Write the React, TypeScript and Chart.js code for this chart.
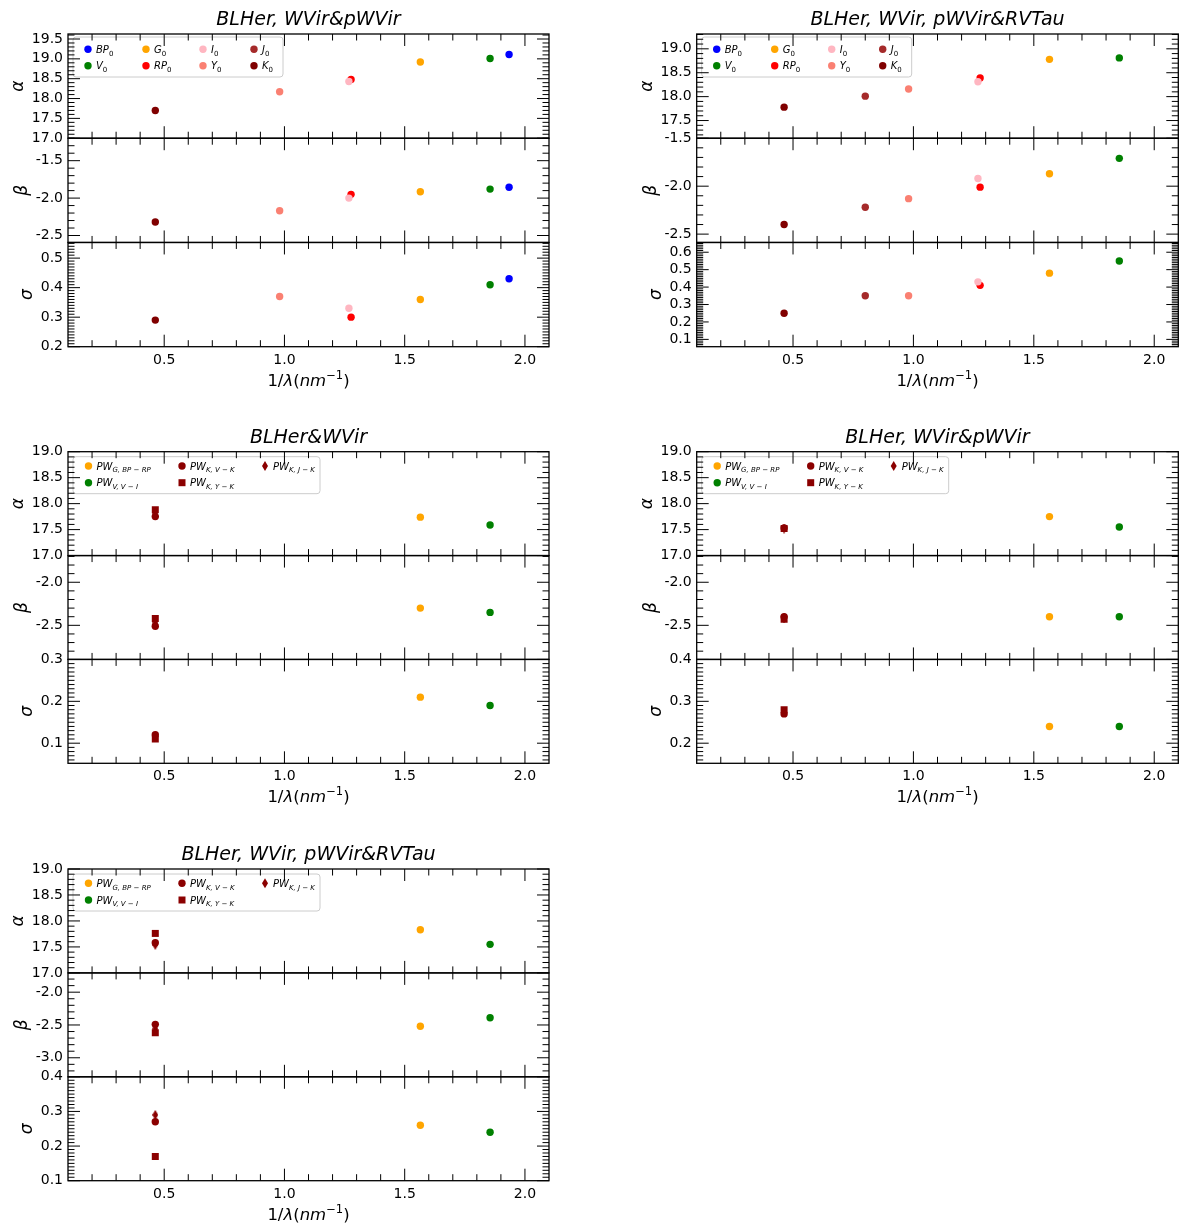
import { useEffect, useRef } from 'react';
import { Chart, registerables } from 'chart.js';

Chart.register(...registerables);

const FONT = 'DejaVu Sans';
Chart.defaults.font.family = FONT;

// bands (legend order: BP, V | G, RP | I, Y | J, K)
const bandNames = ['BP', 'V', 'G', 'RP', 'I', 'Y', 'J', 'K'];
const bandX = [1.934, 1.855, 1.565, 1.277, 1.268, 0.98, 0.8, 0.463];
const bandColors = ['#0000ff', '#008000', '#ffa500', '#ff0000', '#ffb6c1', '#fa8072', '#a52a2a', '#800000'];

// PL relations, BLHer, WVir & pWVir
const alphaPL1 = [19.11, 19.01, 18.92, 18.48, 18.43, 18.17, null, 17.7];
const betaPL1 = [-1.855, -1.88, -1.915, -1.95, -2.0, -2.17, null, -2.32];
const sigmaPL1 = [0.43, 0.41, 0.36, 0.3, 0.33, 0.37, null, 0.29];

// PL relations, BLHer, WVir, pWVir & RVTau
const alphaPL2 = [null, 18.81, 18.78, 18.39, 18.31, 18.16, 18.01, 17.78];
const betaPL2 = [null, -1.71, -1.87, -2.01, -1.92, -2.13, -2.22, -2.4];
const sigmaPL2 = [null, 0.55, 0.48, 0.41, 0.43, 0.35, 0.35, 0.25];

// Wesenheit relations (legend order: G | V, K V-K | K Y-K, K J-K)
const pwSubs = ['G, BP − RP', 'V, V − I', 'K, V − K', 'K, Y − K', 'K, J − K'];
const pwX = [1.565, 1.855, 0.463, 0.463, 0.463];
const pwColors = ['#ffa500', '#008000', '#8b0000', '#8b0000', '#8b0000'];
const pwShapes = ['circle', 'circle', 'circle', 'rect', 'diamond'];

// BLHer & WVir
const alphaPW1 = [17.74, 17.59, 17.75, 17.88, 17.81];
const betaPW1 = [-2.3, -2.35, -2.51, -2.42, -2.47];
const sigmaPW1 = [0.21, 0.19, 0.12, 0.11, 0.115];

// BLHer, WVir & pWVir
const alphaPW2 = [17.75, 17.55, 17.53, 17.52, 17.52];
const betaPW2 = [-2.4, -2.4, -2.4, -2.43, -2.42];
const sigmaPW2 = [0.24, 0.24, 0.27, 0.28, 0.275];

// BLHer, WVir, pWVir & RVTau
const alphaPW3 = [17.83, 17.55, 17.58, 17.76, 17.54];
const betaPW3 = [-2.52, -2.39, -2.49, -2.62, -2.555];
const sigmaPW3 = [0.26, 0.24, 0.27, 0.17, 0.29];

// tick labels
const xTicks = [0.5, 1.0, 1.5, 2.0];
const alphaTicksA = [17.0, 17.5, 18.0, 18.5, 19.0, 19.5];
const alphaTicksB = [17.5, 18.0, 18.5, 19.0];
const alphaTicksC = [17.0, 17.5, 18.0, 18.5, 19.0];
const betaTicksA = [-2.5, -2.0, -1.5];
const betaTicksC = [-2.5, -2.0];
const betaTicksE = [-3.0, -2.5, -2.0];
const sigmaTicksA = [0.2, 0.3, 0.4, 0.5];
const sigmaTicksB = [0.1, 0.2, 0.3, 0.4, 0.5, 0.6];
const sigmaTicksC = [0.1, 0.2, 0.3];
const sigmaTicksD = [0.2, 0.3, 0.4];
const sigmaTicksE = [0.1, 0.2, 0.3, 0.4];

const yIds = ['ya', 'yb', 'yc'];
const yTitles = ['α', 'β', 'σ'];
const majorSteps = [0.5, 0.5, 0.1];
const minorSteps = [0.1, 0.1, 0.01];

type Area = { l: number; t: number; r: number; b: number };
type PanelCfg = {
  x: number; y: number; w: number; h: number; area: Area;
  title: string; kind: 'band' | 'pw';
  vals: (number | null)[][]; ranges: number[][]; ticks: number[][];
};

const panels: PanelCfg[] = [
  {
    x: 0, y: 0, w: 600, h: 415, area: { l: 68, t: 34, r: 549, b: 346.7 },
    title: 'BLHer, WVir&pWVir', kind: 'band',
    vals: [alphaPL1, betaPL1, sigmaPL1],
    ranges: [[17.0, 19.626], [-2.593, -1.2], [0.2, 0.553]],
    ticks: [alphaTicksA, betaTicksA, sigmaTicksA],
  },
  {
    x: 600, y: 0, w: 600, h: 415, area: { l: 96.7, t: 34, r: 578.3, b: 346.7 },
    title: 'BLHer, WVir, pWVir&RVTau', kind: 'band',
    vals: [alphaPL2, betaPL2, sigmaPL2],
    ranges: [[17.13, 19.31], [-2.587, -1.5], [0.058, 0.656]],
    ticks: [alphaTicksB, betaTicksA, sigmaTicksB],
  },
  {
    x: 0, y: 415, w: 600, h: 415, area: { l: 68, t: 36.7, r: 549, b: 348.3 },
    title: 'BLHer&WVir', kind: 'pw',
    vals: [alphaPW1, betaPW1, sigmaPW1],
    ranges: [[17.0, 19.0], [-2.896, -1.69], [0.052, 0.3]],
    ticks: [alphaTicksC, betaTicksC, sigmaTicksC],
  },
  {
    x: 600, y: 415, w: 600, h: 415, area: { l: 96.7, t: 36.7, r: 578.3, b: 348.3 },
    title: 'BLHer, WVir&pWVir', kind: 'pw',
    vals: [alphaPW2, betaPW2, sigmaPW2],
    ranges: [[17.0, 19.0], [-2.896, -1.69], [0.152, 0.4]],
    ticks: [alphaTicksC, betaTicksC, sigmaTicksD],
  },
  {
    x: 0, y: 830, w: 600, h: 399, area: { l: 68, t: 39, r: 549, b: 350.7 },
    title: 'BLHer, WVir, pWVir&RVTau', kind: 'pw',
    vals: [alphaPW3, betaPW3, sigmaPW3],
    ranges: [[17.0, 19.0], [-3.29, -1.706], [0.1, 0.4]],
    ticks: [alphaTicksC, betaTicksE, sigmaTicksE],
  },
];

function diamondImage(color: string) {
  const c = document.createElement('canvas');
  c.width = 6;
  c.height = 10;
  const g = c.getContext('2d')!;
  g.fillStyle = color;
  g.beginPath();
  g.moveTo(3, 0);
  g.lineTo(6, 5);
  g.lineTo(3, 10);
  g.lineTo(0, 5);
  g.closePath();
  g.fill();
  return c;
}

function drawMarker(ctx: CanvasRenderingContext2D, shape: string, color: string, x: number, y: number) {
  ctx.fillStyle = color;
  ctx.beginPath();
  if (shape === 'rect') ctx.rect(x - 3.5, y - 3.5, 7, 7);
  else if (shape === 'diamond') {
    ctx.moveTo(x, y - 5);
    ctx.lineTo(x + 3, y);
    ctx.lineTo(x, y + 5);
    ctx.lineTo(x - 3, y);
    ctx.closePath();
  } else ctx.arc(x, y, 3.7, 0, Math.PI * 2);
  ctx.fill();
}

type Piece = { t: string; it?: boolean; sub?: boolean; sup?: boolean };

function richWidth(ctx: CanvasRenderingContext2D, pieces: Piece[], size: number) {
  let w = 0;
  for (const p of pieces) {
    const fs = p.sub || p.sup ? size * 0.7 : size;
    ctx.font = `${p.it ? 'italic ' : ''}${fs}px ${FONT}`;
    w += ctx.measureText(p.t).width;
  }
  return w;
}

function drawRich(ctx: CanvasRenderingContext2D, pieces: Piece[], x: number, y: number, size: number) {
  let cx = x;
  ctx.textAlign = 'left';
  ctx.textBaseline = 'alphabetic';
  for (const p of pieces) {
    const fs = p.sub || p.sup ? size * 0.7 : size;
    ctx.font = `${p.it ? 'italic ' : ''}${fs}px ${FONT}`;
    const dy = p.sub ? size * 0.28 : p.sup ? -size * 0.42 : 0;
    ctx.fillText(p.t, cx, y + dy);
    cx += ctx.measureText(p.t).width;
  }
}

function drawLegend(ctx: CanvasRenderingContext2D, a: any, kind: 'band' | 'pw') {
  const band = kind === 'band';
  const box = band ? { dx: 5, dy: 3, w: 210, h: 40 } : { dx: 5, dy: 5, w: 247, h: 37 };
  const cols = band ? [20, 78, 135, 186] : [20.5, 114, 197];
  const rows = band ? [15.3, 31.7] : [14.3, 31];
  ctx.save();
  ctx.fillStyle = 'rgba(255,255,255,0.8)';
  ctx.strokeStyle = '#cccccc';
  ctx.lineWidth = 1;
  ctx.beginPath();
  ctx.roundRect(a.left + box.dx, a.top + box.dy, box.w, box.h, 3);
  ctx.fill();
  ctx.stroke();
  const n = band ? bandNames.length : pwSubs.length;
  for (let i = 0; i < n; i++) {
    const mx = a.left + cols[Math.floor(i / 2)];
    const my = a.top + rows[i % 2];
    if (band) {
      drawMarker(ctx, 'circle', bandColors[i], mx, my);
      ctx.fillStyle = '#000';
      drawRich(ctx, [{ t: bandNames[i], it: true }, { t: '0', sub: true }], mx + 8, my + 3.6, 10);
    } else {
      drawMarker(ctx, pwShapes[i], pwColors[i], mx, my);
      ctx.fillStyle = '#000';
      drawRich(ctx, [{ t: 'PW', it: true }, { t: pwSubs[i], it: true, sub: true }], mx + 8, my + 3.6, 10);
    }
  }
  ctx.restore();
}

function makeDecor(cfg: PanelCfg) {
  return {
    id: 'decor',
    afterDraw(chart: any) {
      const ctx: CanvasRenderingContext2D = chart.ctx;
      const a = chart.chartArea;
      const xs = chart.scales.x;
      ctx.save();
      drawLegend(ctx, a, cfg.kind);

      ctx.strokeStyle = '#000';
      ctx.fillStyle = '#000';
      yIds.forEach((id, k) => {
        const s = chart.scales[id];
        const top = s.top;
        const bot = s.bottom;
        ctx.lineWidth = 1;
        const tick = (x1: number, y1: number, x2: number, y2: number) => {
          ctx.beginPath();
          ctx.moveTo(x1, y1);
          ctx.lineTo(x2, y2);
          ctx.stroke();
        };
        // y ticks
        const [min, max] = cfg.ranges[k];
        const ms = minorSteps[k];
        for (let j = Math.ceil(min / ms - 1e-6); j * ms <= max + 1e-9; j++) {
          const v = j * ms;
          const q = v / majorSteps[k];
          if (Math.abs(q - Math.round(q)) < 1e-6) continue;
          const py = s.getPixelForValue(v);
          tick(a.left, py, a.left + 6.5, py);
          tick(a.right - 6.5, py, a.right, py);
        }
        for (const v of cfg.ticks[k]) {
          const py = s.getPixelForValue(v);
          tick(a.left, py, a.left + 12, py);
          tick(a.right - 12, py, a.right, py);
        }
        // x ticks
        for (let j = 2; j <= 20; j++) {
          const v = j / 10;
          const px = xs.getPixelForValue(v);
          const major = j % 5 === 0;
          const len = major ? 12 : 6.5;
          tick(px, top, px, top + len);
          tick(px, bot, px, bot - len);
        }
        // frame
        ctx.lineWidth = 1.3;
        ctx.strokeRect(a.left, top, a.right - a.left, bot - top);

        // y title
        ctx.font = `14px ${FONT}`;
        let maxW = 0;
        for (const v of cfg.ticks[k]) maxW = Math.max(maxW, ctx.measureText(v.toFixed(1)).width);
        const cx = a.left - 5 - maxW - 13;
        const cy = (top + bot) / 2;
        ctx.save();
        ctx.translate(cx, cy);
        ctx.rotate(-Math.PI / 2);
        ctx.font = `italic 17px ${FONT}`;
        ctx.textAlign = 'center';
        ctx.textBaseline = 'middle';
        ctx.fillText(yTitles[k], 0, 0);
        ctx.restore();
      });

      // panel title
      ctx.font = `italic 19px ${FONT}`;
      ctx.textAlign = 'center';
      ctx.textBaseline = 'alphabetic';
      ctx.fillText(cfg.title, (a.left + a.right) / 2, a.top - 9);

      // x axis title
      const pieces: Piece[] = [
        { t: '1/' }, { t: 'λ', it: true }, { t: '(' }, { t: 'nm', it: true }, { t: '−1', sup: true }, { t: ')' },
      ];
      const w = richWidth(ctx, pieces, 16.5);
      drawRich(ctx, pieces, (a.left + a.right) / 2 - w / 2, a.bottom + 39, 16.5);
      ctx.restore();
    },
  };
}

function Panel({ cfg }: { cfg: PanelCfg }) {
  const canvasRef = useRef<HTMLCanvasElement>(null);

  useEffect(() => {
    if (!canvasRef.current) return;
    const datasets: any[] = [];
    const n = cfg.kind === 'band' ? bandNames.length : pwSubs.length;
    for (let k = 0; k < 3; k++) {
      for (let i = 0; i < n; i++) {
        const v = cfg.vals[k][i];
        const color = cfg.kind === 'band' ? bandColors[i] : pwColors[i];
        const shape = cfg.kind === 'band' ? 'circle' : pwShapes[i];
        const xv = cfg.kind === 'band' ? bandX[i] : pwX[i];
        datasets.push({
          data: v === null ? [] : [{ x: xv, y: v }],
          yAxisID: yIds[k],
          backgroundColor: color,
          borderColor: color,
          pointBorderWidth: 0,
          pointRadius: shape === 'rect' ? 4.95 : 3.7,
          pointStyle: shape === 'diamond' ? diamondImage(color) : shape,
          order: -i,
        });
      }
    }

    const tickFont = { family: FONT, size: 14 };
    const yScale = (k: number) => ({
      type: 'linear',
      position: 'left',
      stack: 'panel',
      stackWeight: 1,
      weight: 3 - k,
      min: cfg.ranges[k][0],
      max: cfg.ranges[k][1],
      grid: { display: false, drawTicks: false },
      border: { display: false },
      afterBuildTicks: (s: any) => {
        s.ticks = cfg.ticks[k].map((v) => ({ value: v }));
      },
      afterFit: (s: any) => {
        s.width = cfg.area.l;
      },
      ticks: {
        font: tickFont,
        color: '#000',
        padding: 5,
        autoSkip: false,
        callback: (v: any) => Number(v).toFixed(1),
      },
    });

    const chart = new Chart(canvasRef.current, {
      type: 'scatter',
      data: { datasets },
      options: {
        responsive: false,
        animation: false,
        events: [],
        layout: { padding: { top: cfg.area.t, right: cfg.w - cfg.area.r, left: 0, bottom: 0 } },
        plugins: { legend: { display: false }, tooltip: { enabled: false }, title: { display: false } },
        scales: {
          x: {
            type: 'linear',
            position: 'bottom',
            min: 0.1,
            max: 2.1,
            grid: { display: false, drawTicks: false },
            border: { display: false },
            afterBuildTicks: (s: any) => {
              s.ticks = xTicks.map((v) => ({ value: v }));
            },
            afterFit: (s: any) => {
              s.height = cfg.h - cfg.area.b;
            },
            ticks: {
              font: tickFont,
              color: '#000',
              padding: 5,
              autoSkip: false,
              maxRotation: 0,
              callback: (v: any) => Number(v).toFixed(1),
            },
          },
          ya: yScale(0),
          yb: yScale(1),
          yc: yScale(2),
        } as any,
      },
      plugins: [makeDecor(cfg)],
    });

    return () => chart.destroy();
  }, [cfg]);

  return (
    <canvas
      ref={canvasRef}
      width={cfg.w}
      height={cfg.h}
      style={{ position: 'absolute', left: cfg.x, top: cfg.y, width: cfg.w, height: cfg.h }}
    />
  );
}

export default function App() {
  useEffect(() => {
    document.body.style.margin = '0';
  }, []);

  return (
    <div style={{ position: 'relative', width: 1200, height: 1229, background: '#fff' }}>
      {panels.map((p, i) => (
        <Panel key={i} cfg={p} />
      ))}
    </div>
  );
}
